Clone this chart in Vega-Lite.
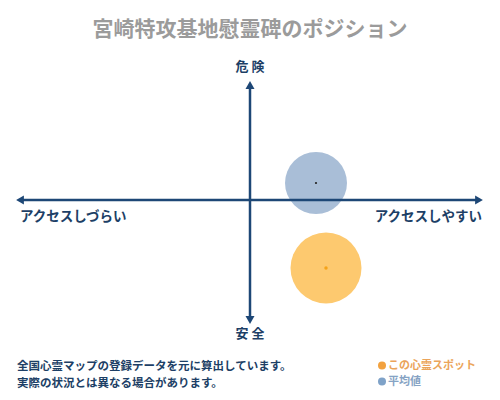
{
  "$schema": "https://vega.github.io/schema/vega-lite/v6.json",
  "width": 500,
  "height": 400,
  "autosize": {"type": "none"},
  "padding": 0,
  "background": "white",
  "config": {"view": {"stroke": null}, "text": {"font": "Noto Sans CJK JP"}},
  "data": {"values": [{}]},
  "datasets": {
    "spots": [
      {"name": "この心霊スポット", "x": 0.38, "y": -0.34},
      {"name": "平均値", "x": 0.33, "y": 0.085}
    ]
  },
  "layer": [
    {
      "data": {"name": "spots"},
      "transform": [{"filter": "datum.name === '平均値'"}],
      "mark": {"type": "circle", "size": 3844, "opacity": 1, "color": "#a9bed7"},
      "encoding": {
        "x": {"field": "x", "type": "quantitative", "scale": {"domain": [-1.25, 1.25]}, "axis": null},
        "y": {"field": "y", "type": "quantitative", "scale": {"domain": [-1, 1]}, "axis": null}
      }
    },
    {
      "data": {"name": "spots"},
      "transform": [{"filter": "datum.name === 'この心霊スポット'"}],
      "mark": {"type": "circle", "size": 5041, "opacity": 1, "color": "#fdc96f"},
      "encoding": {
        "x": {"field": "x", "type": "quantitative", "scale": {"domain": [-1.25, 1.25]}, "axis": null},
        "y": {"field": "y", "type": "quantitative", "scale": {"domain": [-1, 1]}, "axis": null}
      }
    },
    {
      "mark": {"type": "rule", "color": "#1d4776", "strokeWidth": 2.5},
      "encoding": {
        "x": {"datum": -1.15, "type": "quantitative", "scale": {"domain": [-1.25, 1.25]}, "axis": null},
        "x2": {"datum": 1.145},
        "y": {"datum": 0, "type": "quantitative", "scale": {"domain": [-1, 1]}, "axis": null}
      }
    },
    {
      "mark": {"type": "rule", "color": "#1d4776", "strokeWidth": 2.5},
      "encoding": {
        "y": {"datum": 0.575, "type": "quantitative", "scale": {"domain": [-1, 1]}, "axis": null},
        "y2": {"datum": -0.6},
        "x": {"datum": 0, "type": "quantitative", "scale": {"domain": [-1.25, 1.25]}, "axis": null}
      }
    },
    {
      "mark": {"type": "point", "shape": "triangle-left", "size": 81, "filled": true, "opacity": 1, "color": "#1d4776"},
      "encoding": {
        "x": {"datum": -1.15, "type": "quantitative", "scale": {"domain": [-1.25, 1.25]}, "axis": null},
        "y": {"datum": 0, "type": "quantitative", "scale": {"domain": [-1, 1]}, "axis": null}
      }
    },
    {
      "mark": {"type": "point", "shape": "triangle-right", "size": 81, "filled": true, "opacity": 1, "color": "#1d4776"},
      "encoding": {
        "x": {"datum": 1.145, "type": "quantitative", "scale": {"domain": [-1.25, 1.25]}, "axis": null},
        "y": {"datum": 0, "type": "quantitative", "scale": {"domain": [-1, 1]}, "axis": null}
      }
    },
    {
      "mark": {"type": "point", "shape": "triangle-up", "size": 81, "filled": true, "opacity": 1, "color": "#1d4776"},
      "encoding": {
        "x": {"datum": 0, "type": "quantitative", "scale": {"domain": [-1.25, 1.25]}, "axis": null},
        "y": {"datum": 0.575, "type": "quantitative", "scale": {"domain": [-1, 1]}, "axis": null}
      }
    },
    {
      "mark": {"type": "point", "shape": "triangle-down", "size": 81, "filled": true, "opacity": 1, "color": "#1d4776"},
      "encoding": {
        "x": {"datum": 0, "type": "quantitative", "scale": {"domain": [-1.25, 1.25]}, "axis": null},
        "y": {"datum": -0.6, "type": "quantitative", "scale": {"domain": [-1, 1]}, "axis": null}
      }
    },
    {
      "data": {"name": "spots"},
      "transform": [{"filter": "datum.name === '平均値'"}],
      "mark": {"type": "circle", "size": 5, "opacity": 1, "color": "#222222"},
      "encoding": {
        "x": {"field": "x", "type": "quantitative", "scale": {"domain": [-1.25, 1.25]}, "axis": null},
        "y": {"field": "y", "type": "quantitative", "scale": {"domain": [-1, 1]}, "axis": null}
      }
    },
    {
      "data": {"name": "spots"},
      "transform": [{"filter": "datum.name === 'この心霊スポット'"}],
      "mark": {"type": "circle", "size": 12, "opacity": 1, "color": "#f5a31a"},
      "encoding": {
        "x": {"field": "x", "type": "quantitative", "scale": {"domain": [-1.25, 1.25]}, "axis": null},
        "y": {"field": "y", "type": "quantitative", "scale": {"domain": [-1, 1]}, "axis": null}
      }
    },
    {
      "mark": {"type": "text", "fontSize": 21, "fontWeight": "bold", "color": "#9b9b9b", "align": "center", "baseline": "middle"},
      "encoding": {
        "x": {"datum": 0, "type": "quantitative", "scale": {"domain": [-1.25, 1.25]}, "axis": null},
        "y": {"datum": 0.85, "type": "quantitative", "scale": {"domain": [-1, 1]}, "axis": null},
        "text": {"value": "宮崎特攻基地慰霊碑のポジション"}
      }
    },
    {
      "mark": {"type": "text", "fontSize": 13, "fontWeight": "bold", "color": "#1d3f66", "align": "center", "baseline": "middle"},
      "encoding": {
        "x": {"datum": 0, "type": "quantitative", "scale": {"domain": [-1.25, 1.25]}, "axis": null},
        "y": {"datum": 0.665, "type": "quantitative", "scale": {"domain": [-1, 1]}, "axis": null},
        "text": {"value": "危 険"}
      }
    },
    {
      "mark": {"type": "text", "fontSize": 13, "fontWeight": "bold", "color": "#1d3f66", "align": "center", "baseline": "middle"},
      "encoding": {
        "x": {"datum": 0, "type": "quantitative", "scale": {"domain": [-1.25, 1.25]}, "axis": null},
        "y": {"datum": -0.67, "type": "quantitative", "scale": {"domain": [-1, 1]}, "axis": null},
        "text": {"value": "安 全"}
      }
    },
    {
      "mark": {"type": "text", "fontSize": 13.5, "fontWeight": "bold", "color": "#1d3f66", "align": "left", "baseline": "middle"},
      "encoding": {
        "x": {"datum": -1.15, "type": "quantitative", "scale": {"domain": [-1.25, 1.25]}, "axis": null},
        "y": {"datum": -0.083, "type": "quantitative", "scale": {"domain": [-1, 1]}, "axis": null},
        "text": {"value": "アクセスしづらい"}
      }
    },
    {
      "mark": {"type": "text", "fontSize": 13.5, "fontWeight": "bold", "color": "#1d3f66", "align": "right", "baseline": "middle"},
      "encoding": {
        "x": {"datum": 1.16, "type": "quantitative", "scale": {"domain": [-1.25, 1.25]}, "axis": null},
        "y": {"datum": -0.083, "type": "quantitative", "scale": {"domain": [-1, 1]}, "axis": null},
        "text": {"value": "アクセスしやすい"}
      }
    },
    {
      "mark": {"type": "text", "fontSize": 11.5, "fontWeight": "bold", "color": "#1d3f66", "align": "left", "baseline": "middle"},
      "encoding": {
        "x": {"datum": -1.165, "type": "quantitative", "scale": {"domain": [-1.25, 1.25]}, "axis": null},
        "y": {"datum": -0.835, "type": "quantitative", "scale": {"domain": [-1, 1]}, "axis": null},
        "text": {"value": "全国心霊マップの登録データを元に算出しています。"}
      }
    },
    {
      "mark": {"type": "text", "fontSize": 11.5, "fontWeight": "bold", "color": "#1d3f66", "align": "left", "baseline": "middle"},
      "encoding": {
        "x": {"datum": -1.165, "type": "quantitative", "scale": {"domain": [-1.25, 1.25]}, "axis": null},
        "y": {"datum": -0.92, "type": "quantitative", "scale": {"domain": [-1, 1]}, "axis": null},
        "text": {"value": "実際の状況とは異なる場合があります。"}
      }
    },
    {
      "data": {"name": "spots"},
      "transform": [{"filter": "datum.name === 'この心霊スポット'"}],
      "mark": {"type": "circle", "size": 64, "opacity": 1, "color": "#f2a23f"},
      "encoding": {
        "x": {"datum": 0.66, "type": "quantitative", "scale": {"domain": [-1.25, 1.25]}, "axis": null},
        "y": {"datum": -0.828, "type": "quantitative", "scale": {"domain": [-1, 1]}, "axis": null}
      }
    },
    {
      "data": {"name": "spots"},
      "transform": [{"filter": "datum.name === '平均値'"}],
      "mark": {"type": "circle", "size": 64, "opacity": 1, "color": "#7fa2c8"},
      "encoding": {
        "x": {"datum": 0.66, "type": "quantitative", "scale": {"domain": [-1.25, 1.25]}, "axis": null},
        "y": {"datum": -0.908, "type": "quantitative", "scale": {"domain": [-1, 1]}, "axis": null}
      }
    },
    {
      "data": {"name": "spots"},
      "transform": [{"filter": "datum.name === 'この心霊スポット'"}],
      "mark": {"type": "text", "fontSize": 11, "fontWeight": "bold", "align": "left", "baseline": "middle", "dx": 6, "color": "#eba45a"},
      "encoding": {
        "x": {"datum": 0.66, "type": "quantitative", "scale": {"domain": [-1.25, 1.25]}, "axis": null},
        "y": {"datum": -0.828, "type": "quantitative", "scale": {"domain": [-1, 1]}, "axis": null},
        "text": {"field": "name"}
      }
    },
    {
      "data": {"name": "spots"},
      "transform": [{"filter": "datum.name === '平均値'"}],
      "mark": {"type": "text", "fontSize": 11, "fontWeight": "bold", "align": "left", "baseline": "middle", "dx": 6, "color": "#86a3c4"},
      "encoding": {
        "x": {"datum": 0.66, "type": "quantitative", "scale": {"domain": [-1.25, 1.25]}, "axis": null},
        "y": {"datum": -0.908, "type": "quantitative", "scale": {"domain": [-1, 1]}, "axis": null},
        "text": {"field": "name"}
      }
    }
  ]
}
